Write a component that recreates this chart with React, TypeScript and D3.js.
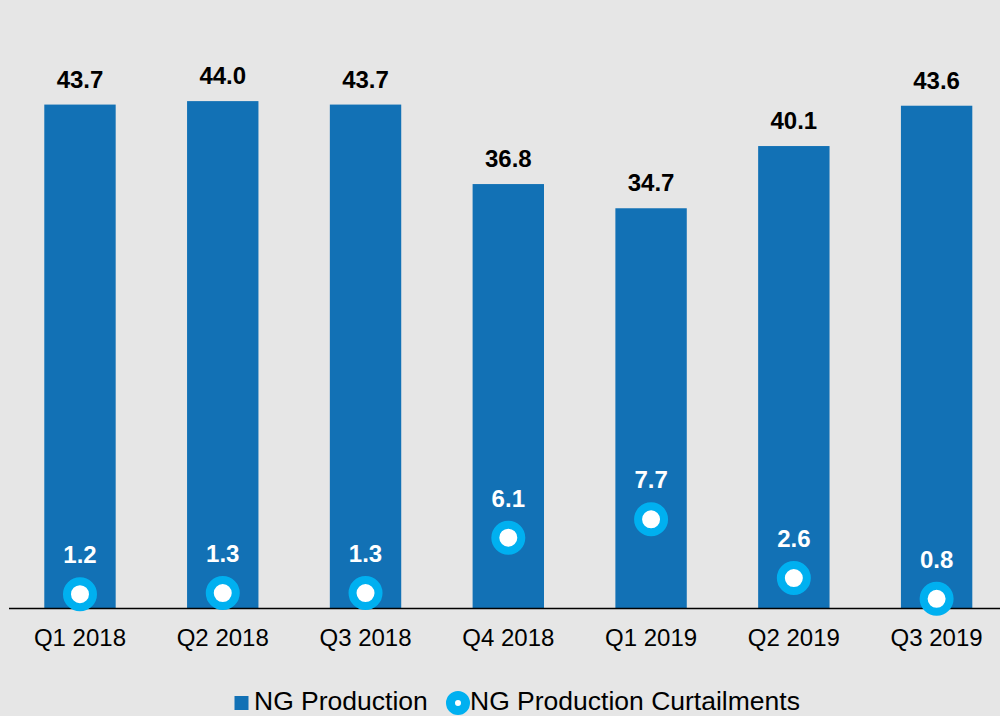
import React from "react";
import * as d3 from "d3";

const categories = ["Q1 2018", "Q2 2018", "Q3 2018", "Q4 2018", "Q1 2019", "Q2 2019", "Q3 2019"];
const production = [43.7, 44.0, 43.7, 36.8, 34.7, 40.1, 43.6];
const curtailments = [1.2, 1.3, 1.3, 6.1, 7.7, 2.6, 0.8];
const seriesNames = ["NG Production", "NG Production Curtailments"];

const W = 1000;
const H = 716;
const BAR = "#1271B5";
const CYAN = "#00B0F0";
const FONT = "'Liberation Sans', Arial, sans-serif";

export default function App() {
  const x = d3.scaleBand<string>().domain(categories).range([8.6, 1008]).paddingInner(0.5).paddingOuter(0.25);
  const y = d3.scaleLinear().domain([0, 50]).range([608, 32]);
  const bw = x.bandwidth();

  return (
    <svg width={W} height={H} style={{ position: "absolute", left: 0, top: 0 }} fontFamily={FONT}>
      <rect x={0} y={0} width={W} height={H} fill="#E6E6E6" />
      {categories.map((c, i) => (
        <g key={c}>
          <rect x={x(c)!} y={y(production[i])} width={bw} height={y(0) - y(production[i])} fill={BAR} />
          <text x={x(c)! + bw / 2} y={y(production[i]) - 17} textAnchor="middle" fontSize={24} fontWeight="bold" fill="#000">
            {production[i].toFixed(1)}
          </text>
          <text x={x(c)! + bw / 2} y={645.5} textAnchor="middle" fontSize={24} fill="#000">
            {c}
          </text>
        </g>
      ))}
      <line x1={9} x2={1000} y1={608.5} y2={608.5} stroke="#000" strokeWidth={1.5} />
      {categories.map((c, i) => {
        const cx = x(c)! + bw / 2;
        const cy = y(curtailments[i]);
        return (
          <g key={c + "-c"}>
            <circle cx={cx} cy={cy} r={13} fill="#fff" stroke={CYAN} strokeWidth={8} />
            <text x={cx} y={cy - 31} textAnchor="middle" fontSize={24} fontWeight="bold" fill="#fff">
              {curtailments[i].toFixed(1)}
            </text>
          </g>
        );
      })}
      <g>
        <rect x={234.5} y={696} width={14} height={14} fill={BAR} />
        <text x={254} y={709.5} fontSize={26.5} fill="#000">{seriesNames[0]}</text>
        <circle cx={458} cy={703} r={7.5} fill="#fff" stroke={CYAN} strokeWidth={9} />
        <text x={470} y={709.5} fontSize={26.5} fill="#000">{seriesNames[1]}</text>
      </g>
    </svg>
  );
}
